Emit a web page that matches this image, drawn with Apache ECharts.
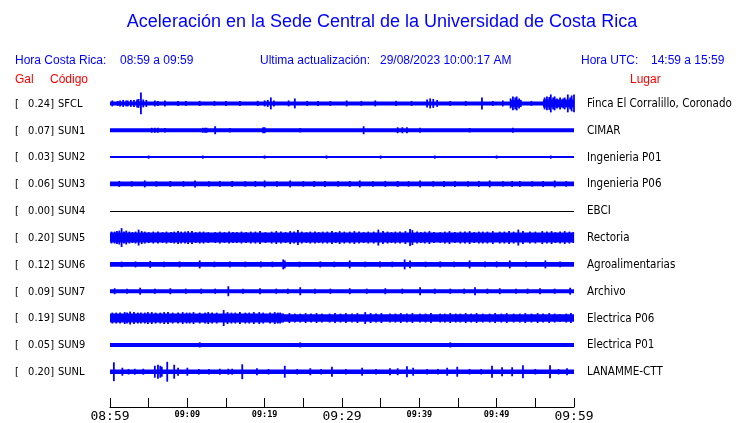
<!DOCTYPE html>
<html><head><meta charset="utf-8">
<script src="https://cdn.jsdelivr.net/npm/echarts@6/dist/echarts.min.js"></script>
<style>html,body{margin:0;padding:0;background:#fff}#c{width:740px;height:423px}</style>
</head><body><div id="c"></div>
<script>
// ---- data ----
const estaciones = ['SFCL','SUN1','SUN2','SUN3','SUN4','SUN5','SUN6','SUN7','SUN8','SUN9','SUNL'];
const galMax = ['0.24','0.07','0.03','0.06','0.00','0.20','0.12','0.09','0.19','0.05','0.20'];
const lugares = ['Finca El Corralillo, Coronado','CIMAR','Ingenieria P01','Ingenieria P06','EBCI','Rectoria','Agroalimentarias','Archivo','Electrica P06','Electrica P01','LANAMME-CTT'];
const etiquetasTiempo = ['08:59','','09:09','','09:19','','09:29','','09:39','','09:49','','09:59'];
const etiquetasMayores = ['08:59','09:29','09:59'];
// amplitude envelope segments [start min, end min, half-amplitude]
const envSFCL = [[0,60,2.0],[51.8,53.2,3.5],[56,60,4]];
const envSUN1 = [[0,60,1.9]];
const envSUN2 = [[0,60,1.0]];
const envSUN3 = [[0,60,2.3]];
const envSUN4 = [[0,60,0]];
const envSUN5 = [[0,60,5]];
const envSUN6 = [[0,60,2.3]];
const envSUN7 = [[0,60,2]];
const envSUN8 = [[0,22.5,4.5],[22.5,60,3.8]];
const envSUN9 = [[0,60,2]];
const envSUNL = [[0,60,2.3]];
// peaks [minute, half-amplitude]
const picSFCL = [[0.3,3],[1.0,2.5],[1.3,3],[1.7,3.5],[2.1,3],[2.3,3],[2.7,3.5],[3.1,3.5],[3.5,4],[3.7,4.5],[4.0,11],[4.3,4],[4.7,3.5],[5.8,3],[6.2,2.5],[7.1,3],[8.8,2.5],[9.8,2.5],[11.6,2.6],[13.5,2.5],[15.0,2.5],[16.8,2.5],[19.1,2.6],[20.0,3],[20.4,3.5],[20.8,6],[21.2,3],[23.1,3],[23.9,5],[25.5,2.5],[26.9,2.5],[28.5,2.5],[30.6,3],[32.5,2.5],[34.3,3],[37.0,2.6],[39.0,2.5],[41.0,4],[41.4,5],[41.8,4.5],[42.3,3.5],[44.0,2.5],[46.0,2.5],[48.1,6],[49.5,2.5],[50.8,3],[51.8,5],[52.1,7],[52.4,6],[52.6,7],[52.9,5],[53.1,3.5],[54.5,2.5],[56.2,6],[56.5,7],[56.8,6.5],[57.0,9],[57.3,6],[57.5,7],[57.8,5],[58.2,6],[58.6,5],[58.8,6],[59.2,9],[59.5,6],[59.7,8],[60.0,9]];
const picSUN1 = [[5.4,2.5],[5.8,2.5],[6.2,2.5],[7.1,2.2],[12.0,2.5],[12.3,2.5],[12.5,2.5],[13.6,4],[15.5,2.2],[19.8,3],[20.0,3],[24.6,2.2],[32.8,4],[37.2,3],[37.8,3],[38.4,3],[40.1,2.5],[46.5,2.2],[52.1,2.5]];
const picSUN2 = [[5.0,1.6],[12.0,1.6],[20.0,1.6],[28.0,1.6],[35.0,1.6],[42.0,1.6],[50.0,1.6],[57.0,1.6]];
const picSUN3 = [[1.2,3],[2.8,2.8],[4.5,3.5],[6.0,2.8],[7.8,3],[9.5,2.8],[11.0,3.5],[12.8,2.8],[14.2,3],[15.8,3],[17.5,2.8],[18.8,3],[20.0,3.5],[21.6,2.8],[23.3,3.5],[25.0,2.8],[26.4,3],[27.8,3],[29.5,2.8],[31.0,3],[32.3,3.5],[34.0,2.8],[35.6,3],[37.2,3],[38.6,2.8],[40.1,3.5],[41.8,2.8],[43.2,3],[44.6,3],[46.3,2.8],[47.7,3],[49.1,3.5],[50.8,2.8],[52.0,3],[53.0,3],[54.6,2.8],[56.0,3],[57.5,3.5],[59.0,2.8]];
const picSUN4 = [];
const picSUN5 = [[0.2,6],[0.6,6],[0.9,6.5],[1.2,7],[1.5,9.5],[1.8,6],[2.1,7],[2.5,6],[2.9,5.5],[3.3,6],[3.7,8],[4.1,6.5],[4.5,6],[5.0,5.5],[5.6,6],[6.2,6],[6.8,5.5],[7.3,6],[7.9,5.5],[8.3,6],[8.8,6.5],[9.2,6],[9.7,6],[10.1,6.5],[10.6,6.5],[11.1,5.5],[11.6,6],[12.1,6],[12.7,5.5],[13.6,5.5],[14.2,6],[14.8,5.5],[15.4,6],[15.9,5.5],[16.4,5.5],[17.0,6],[17.6,5.5],[18.2,6],[18.8,6],[19.4,6.5],[20.1,5.5],[20.9,6],[21.5,6.5],[22.1,6],[22.7,5.5],[23.3,6.5],[23.8,6],[24.3,7.5],[24.8,6],[25.4,5.5],[25.9,6],[26.5,6],[27.0,5.5],[27.5,6],[28.1,6],[28.7,6.5],[29.2,5.5],[29.7,6.5],[30.3,6],[31.0,6],[31.6,6.5],[32.2,6],[32.8,5.5],[33.4,6],[34.1,6],[34.7,8],[35.3,6.5],[35.9,6],[36.4,5.5],[36.9,6],[37.5,6],[38.2,6.5],[38.8,8.5],[39.1,7.5],[39.7,6],[40.2,5.5],[40.7,6],[41.3,6.5],[41.9,5.5],[42.7,5.5],[43.3,6],[43.9,6.5],[44.6,5.5],[45.3,6],[45.9,6],[46.5,6.5],[47.1,5.5],[47.7,6],[48.2,6],[48.8,6],[49.5,6.5],[50.4,6],[51.0,6],[51.6,6.5],[52.2,6],[52.8,8],[53.4,6.5],[54.3,6],[55.0,6],[55.9,6.5],[56.5,6],[57.1,6.5],[57.6,5.5],[58.2,6],[58.8,6.5],[59.4,6],[59.9,5.5]];
const picSUN6 = [[1.5,2.8],[3.3,3],[5.2,3.5],[7.0,2.8],[9.0,3],[11.6,4],[13.5,2.8],[15.5,3],[17.5,2.8],[19.5,3],[21.0,2.8],[22.4,5],[22.6,4],[24.5,2.8],[27.2,3],[29.0,2.8],[31.0,4],[33.0,2.8],[34.9,3],[36.5,2.8],[38.1,5],[38.8,4],[40.8,2.8],[42.7,3],[44.5,2.8],[46.5,4],[48.5,2.8],[50.0,3],[51.7,4],[53.8,2.8],[56.3,4],[58.2,2.8]];
const picSUN7 = [[0.6,3],[2.2,2.6],[3.9,3.5],[5.8,2.6],[7.8,3],[9.8,2.6],[11.8,2.6],[13.6,2.6],[15.3,5],[17.2,2.6],[19.4,3],[21.5,2.6],[23.0,2.6],[24.6,4],[26.5,2.6],[28.5,2.6],[31.0,3],[33.2,2.6],[35.6,3],[37.8,2.6],[40.1,4],[42.0,2.6],[44.0,2.6],[45.8,2.6],[47.2,4],[48.8,2.6],[50.4,3],[52.5,2.6],[54.0,2.6],[55.6,3],[57.5,2.6],[59.5,3.5]];
const picSUN8 = [[0.3,5.5],[0.8,5.5],[1.3,5.5],[1.9,6],[2.2,5.5],[2.6,6.5],[3.1,6],[3.6,5.5],[4.0,5.5],[4.5,5.5],[4.9,6],[5.4,6],[5.9,5.5],[6.5,5.5],[7.0,6],[7.5,6],[8.1,5.5],[8.8,5.5],[9.4,6],[9.9,5.5],[10.3,5.5],[10.8,6],[11.6,5.5],[12.3,5.5],[12.7,6],[13.2,5.5],[13.8,5.5],[14.7,8],[15.2,6],[15.7,5.5],[16.2,5.5],[16.8,6],[17.5,5.5],[18.0,5.5],[18.6,6],[19.3,6],[19.8,5.5],[20.7,5.5],[21.3,6],[21.7,5.5],[22.0,5.5],[23.2,5],[23.9,4.5],[24.6,4.5],[25.3,5],[26.0,4.5],[26.7,5],[27.4,4.5],[28.4,4.5],[29.1,5],[29.8,4.5],[30.5,5],[31.3,4.5],[32.0,5],[33.0,6],[33.7,5],[34.4,4.5],[35.1,5],[36.2,4.5],[36.9,4.5],[37.6,5],[38.4,4.5],[39.1,5],[40.1,4.5],[40.8,4.5],[41.5,5],[42.7,4.5],[43.3,4.5],[44.0,5],[44.7,4.5],[45.3,4.5],[46.0,5],[46.7,4.5],[47.4,5],[48.2,4.5],[49.1,4.5],[49.8,5],[50.6,4.5],[51.3,5],[52.2,4.5],[53.0,4.5],[53.7,5],[54.5,4.5],[55.3,5],[56.0,4.5],[56.8,5],[57.5,4.5],[58.2,4],[59.0,4.5],[59.6,5]];
const picSUN9 = [[11.6,2.6],[24.6,2.6],[44.0,2.6]];
const picSUNL = [[0.5,9.5],[1.6,4],[2.4,2.8],[3.2,3],[4.3,3],[5.8,6],[6.2,7],[6.5,6],[6.7,5],[7.4,10],[8.3,7],[8.8,4],[10.0,4],[11.5,2.8],[12.8,2.8],[14.2,3],[15.3,3],[15.8,3],[17.1,7.5],[19.0,3.5],[20.5,2.8],[22.6,6],[24.2,2.8],[25.9,3.5],[27.3,2.8],[28.7,5],[30.5,2.8],[32.6,4],[34.4,2.8],[36.2,3.5],[37.2,3.5],[38.4,5.5],[39.2,4],[41.0,2.8],[42.4,2.8],[43.6,4],[44.9,5],[46.5,2.8],[48.0,2.8],[49.4,6],[50.7,4.5],[52.0,4.5],[53.4,6.5],[55.0,2.8],[56.9,6.5],[58.0,2.8],[59.1,3.5]];

const envolventes = [envSFCL,envSUN1,envSUN2,envSUN3,envSUN4,envSUN5,envSUN6,envSUN7,envSUN8,envSUN9,envSUNL];
const picos = [picSFCL,picSUN1,picSUN2,picSUN3,picSUN4,picSUN5,picSUN6,picSUN7,picSUN8,picSUN9,picSUNL];

// ---- chart ----
const PASO = 27;
const centro = i => PASO/2 + PASO*i;
const bandData = [], peakData = [];
envolventes.forEach((env,i)=>env.forEach(s=>bandData.push([s[0],s[1],s[2],i])));
picos.forEach((p,i)=>p.forEach(s=>peakData.push([s[0],s[1],i])));

const AZUL = '#0000ff';
const chart = echarts.init(document.getElementById('c'), null, {renderer:'canvas'});
chart.setOption({
  animation:false,
  grid:{left:110, width:464, top:90, height:319},
  xAxis:{type:'value', min:0, max:60, interval:5,
    axisLine:{onZero:false, lineStyle:{color:'#000', width:1}},
    axisTick:{inside:true, length:9, lineStyle:{color:'#000'}},
    splitLine:{show:false},
    axisLabel:{margin:3, showMinLabel:true, showMaxLabel:true,
      formatter:v=>{const t=etiquetasTiempo[Math.round(v/5)]||''; if(!t) return ''; return etiquetasMayores.includes(t)?'{g|'+t+'}':'{p|'+t+'}';},
      rich:{g:{fontFamily:'DejaVu Sans Mono', fontSize:13, color:'#000'}, p:{fontFamily:'DejaVu Sans Mono', fontSize:8.5, fontWeight:'bold', color:'#000'}}}
  },
  yAxis:{type:'value', min:0, max:319, inverse:true, show:false},
  series:[
    {type:'custom', data:bandData, renderItem:(params,api)=>{
      const i=api.value(3), a=api.value(2), c=centro(i);
      const p0=api.coord([api.value(0), c-a]), p1=api.coord([api.value(1), c+a]);
      if(a===0){ const q0=api.coord([api.value(0),c]), q1=api.coord([api.value(1),c]);
        return {type:'line', shape:{x1:q0[0],y1:Math.round(q0[1])+0.5,x2:q1[0],y2:Math.round(q1[1])+0.5}, style:{stroke:'#000',lineWidth:1}}; }
      return {type:'rect', shape:{x:p0[0], y:p0[1], width:p1[0]-p0[0], height:p1[1]-p0[1]}, style:{fill:AZUL}};
    }},
    {type:'custom', data:peakData, renderItem:(params,api)=>{
      const i=api.value(2), a=api.value(1), c=centro(i);
      const p0=api.coord([api.value(0), c-a]), p1=api.coord([api.value(0), c+a]);
      return {type:'rect', shape:{x:p0[0]-0.9, y:p0[1], width:1.8, height:p1[1]-p0[1]}, style:{fill:AZUL}};
    }}
  ]
});

const F='Liberation Sans, Arial, sans-serif';
const FL='DejaVu Sans Condensed, DejaVu Sans, sans-serif';
const g=[
  {type:'text', x:382, y:22, style:{text:'Aceleración en la Sede Central de la Universidad de Costa Rica', font:'18px '+F, fill:AZUL, textAlign:'center', textVerticalAlign:'middle'}},
  {type:'text', x:15, y:61, style:{text:'Hora Costa Rica:', font:'12px '+F, fill:AZUL, textVerticalAlign:'middle'}},
  {type:'text', x:120, y:61, style:{text:'08:59 a 09:59', font:'12px '+F, fill:AZUL, textVerticalAlign:'middle'}},
  {type:'text', x:260, y:61, style:{text:'Ultima actualización:', font:'12px '+F, fill:AZUL, textVerticalAlign:'middle'}},
  {type:'text', x:380, y:61, style:{text:'29/08/2023 10:00:17 AM', font:'12px '+F, fill:AZUL, textVerticalAlign:'middle'}},
  {type:'text', x:581, y:61, style:{text:'Hora UTC:', font:'12px '+F, fill:AZUL, textVerticalAlign:'middle'}},
  {type:'text', x:651, y:61, style:{text:'14:59 a 15:59', font:'12px '+F, fill:AZUL, textVerticalAlign:'middle'}},
  {type:'text', x:15, y:80, style:{text:'Gal', font:'12px '+F, fill:'#ff0000', textVerticalAlign:'middle'}},
  {type:'text', x:50, y:80, style:{text:'Código', font:'12px '+F, fill:'#ff0000', textVerticalAlign:'middle'}},
  {type:'text', x:630, y:80, style:{text:'Lugar', font:'12px '+F, fill:'#ff0000', textVerticalAlign:'middle'}}
];
estaciones.forEach((e,i)=>{
  const y = chart.convertToPixel({gridIndex:0},[0,centro(i)])[1]+0.5;
  g.push({type:'text', x:15, y:y, style:{text:'[', font:'11px '+FL, fill:'#000', textVerticalAlign:'middle'}});
  g.push({type:'text', x:54, y:y, style:{text:galMax[i]+']', font:'11px '+FL, fill:'#000', textAlign:'right', textVerticalAlign:'middle'}});
  g.push({type:'text', x:58, y:y, style:{text:e, font:'11px '+FL, fill:'#000', textVerticalAlign:'middle'}});
  g.push({type:'text', x:587, y:y, style:{text:lugares[i], font:'11.5px '+FL, fill:'#000', textVerticalAlign:'middle'}});
});
chart.setOption({graphic:g});
</script></body></html>
